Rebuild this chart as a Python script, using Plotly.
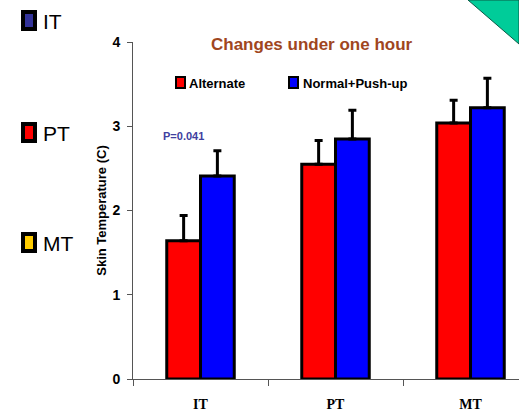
import plotly.graph_objects as go

categories = ["IT", "PT", "MT"]
alternate = [1.64, 2.55, 3.04]
alternate_err = [0.30, 0.28, 0.27]
pushup = [2.41, 2.85, 3.22]
pushup_err = [0.30, 0.34, 0.35]
y_ticks = [0, 1, 2, 3, 4]
side_labels = ["IT", "PT", "MT"]
side_colors = ["#333399", "#FF0000", "#FFCC00"]

W, H = 519, 413
L, R, T, B = 133, 0, 42, 34
pw, ph = W - L - R, H - T - B

def px(x):
    return (x - L) / pw

def py(y):
    return (H - B - y) / ph

SANS = "Liberation Sans, Arial"

fig = go.Figure()
fig.add_trace(go.Bar(
    x=categories, y=alternate, name="Alternate",
    marker=dict(color="#FF0000", line=dict(color="black", width=3)),
    error_y=dict(type="data", array=alternate_err, symmetric=False,
                 arrayminus=[0] * 3, color="black", thickness=3, width=4),
))
fig.add_trace(go.Bar(
    x=categories, y=pushup, name="Normal+Push-up",
    marker=dict(color="#0000FF", line=dict(color="black", width=3)),
    error_y=dict(type="data", array=pushup_err, symmetric=False,
                 arrayminus=[0] * 3, color="black", thickness=3, width=4),
))

shapes = []
annotations = []

# green corner triangle
shapes.append(dict(type="path", xref="paper", yref="paper",
                   path=f"M {px(468)} {py(0)} L {px(519)} {py(0)} L {px(519)} {py(44)} Z",
                   fillcolor="#00CC99", line=dict(color="#0a5a46", width=1)))

# side legend squares
side_y = [20.5, 132.5, 242.5]
for lab, col, yc in zip(side_labels, side_colors, side_y):
    shapes.append(dict(type="rect", xref="paper", yref="paper",
                       x0=px(21), x1=px(37), y0=py(yc - 10.5), y1=py(yc + 10.5),
                       fillcolor="black", line=dict(width=0)))
    shapes.append(dict(type="rect", xref="paper", yref="paper",
                       x0=px(25), x1=px(33), y0=py(yc - 6.5), y1=py(yc + 6.5),
                       fillcolor=col, line=dict(width=0)))
    annotations.append(dict(text=lab, xref="paper", yref="paper",
                            x=px(41), y=py(yc + 1), xanchor="left", yanchor="middle",
                            showarrow=False,
                            font=dict(family=SANS, size=21, color="black")))

# inner legend
leg = [("Alternate", "#FF0000", 176, 188), ("Normal+Push-up", "#0000FF", 289, 302)]
for lab, col, x0, xt in leg:
    shapes.append(dict(type="rect", xref="paper", yref="paper",
                       x0=px(x0), x1=px(x0 + 9), y0=py(88), y1=py(77),
                       fillcolor=col, line=dict(color="black", width=2)))
    annotations.append(dict(text=lab, xref="paper", yref="paper",
                            x=px(xt - 1), y=py(83), xanchor="left", yanchor="middle",
                            showarrow=False,
                            font=dict(family=SANS, size=13, color="black", weight="bold")))

# title
annotations.append(dict(text="Changes under one hour", xref="paper", yref="paper",
                        x=px(312), y=py(45), xanchor="center", yanchor="middle",
                        showarrow=False,
                        font=dict(family=SANS, size=17, color="#A0461E", weight="bold")))
# p-value
annotations.append(dict(text="P=0.041", xref="paper", yref="paper",
                        x=px(183), y=py(136), xanchor="center", yanchor="middle",
                        showarrow=False,
                        font=dict(family=SANS, size=11, color="#4040A0", weight="bold")))

fig.update_layout(
    width=W, height=H,
    margin=dict(l=L, r=R, t=T, b=B, pad=0),
    paper_bgcolor="white", plot_bgcolor="white",
    showlegend=False,
    barmode="group", bargap=0.5, bargroupgap=0,
    shapes=shapes, annotations=annotations,
    xaxis=dict(range=[-0.5, -0.5 + (W - L) / 135.0], showgrid=False,
               showline=True, linecolor="#555555", linewidth=1,
               ticks="outside", tickson="boundaries", ticklen=6, tickcolor="#555555",
               tickfont=dict(family="Liberation Serif, Times New Roman", size=14,
                             color="black", weight="bold"),
               ticklabelstandoff=12, fixedrange=True),
    yaxis=dict(range=[0, 4], tickvals=y_ticks, showgrid=False, zeroline=False,
               showline=True, linecolor="#555555", linewidth=1,
               ticks="outside", ticklen=5, tickcolor="#555555",
               tickfont=dict(family=SANS, size=14, color="black", weight="bold"),
               ticklabelstandoff=4, fixedrange=True,
               title=dict(text="Skin Temperature (C)", standoff=2,
                          font=dict(family=SANS, size=13,
                                    color="black", weight="bold"))),
)

fig.write_html("out.html", config={"displayModeBar": False},
               post_script="document.body.style.margin='0';document.body.style.padding='0';")
